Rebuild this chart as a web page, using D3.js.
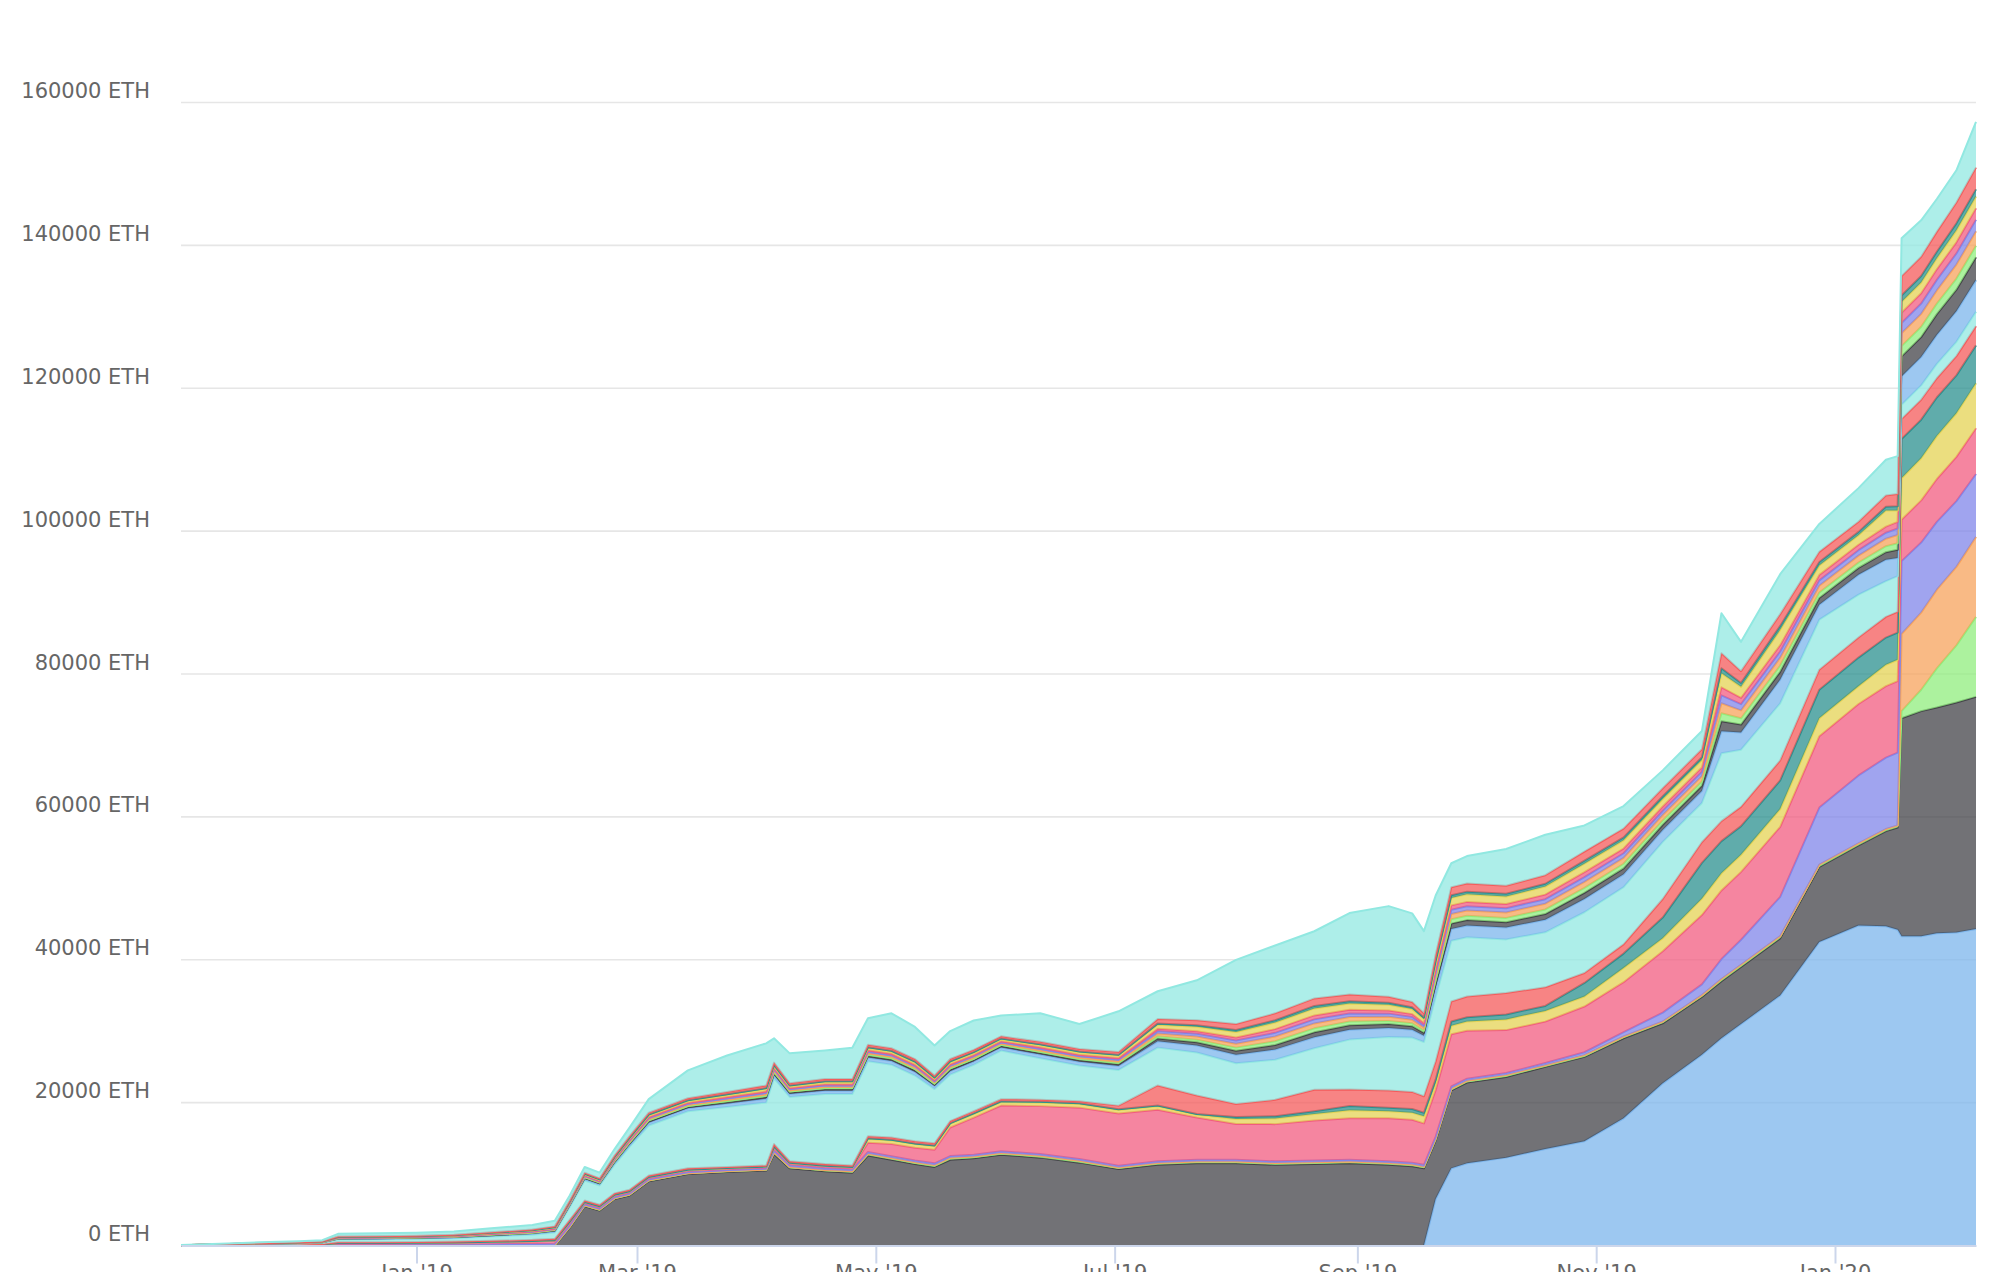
<!DOCTYPE html>
<html><head><meta charset="utf-8">
<script src="https://cdn.jsdelivr.net/npm/d3@7"></script>
<style>body{margin:0;background:#fff;} svg{display:block;}</style>
</head><body>
<svg id="chart" width="2002" height="1272"></svg>
<script>
const dates = ["2018-11-02","2018-11-12","2018-11-22","2018-12-02","2018-12-08","2018-12-12","2018-12-22","2019-01-01","2019-01-11","2019-01-21","2019-02-01","2019-02-07","2019-02-11","2019-02-15","2019-02-19","2019-02-23","2019-02-27","2019-03-04","2019-03-14","2019-03-24","2019-04-03","2019-04-05","2019-04-09","2019-04-18","2019-04-25","2019-04-29","2019-05-05","2019-05-11","2019-05-16","2019-05-20","2019-05-26","2019-06-02","2019-06-12","2019-06-22","2019-07-02","2019-07-12","2019-07-22","2019-08-01","2019-08-11","2019-08-21","2019-08-30","2019-09-09","2019-09-15","2019-09-18","2019-09-21","2019-09-25","2019-09-29","2019-10-09","2019-10-19","2019-10-29","2019-11-08","2019-11-18","2019-11-28","2019-12-03","2019-12-08","2019-12-18","2019-12-28","2020-01-07","2020-01-14","2020-01-17","2020-01-18","2020-01-23","2020-01-27","2020-02-01","2020-02-06"];

const yTickValues = [0,20000,40000,60000,80000,100000,120000,140000,160000];
const xTickDates = ["2019-01-01","2019-03-01","2019-05-01","2019-07-01","2019-09-01","2019-11-01","2020-01-01"];
const xTickLabels = ["Jan '19","Mar '19","May '19","Jul '19","Sep '19","Nov '19","Jan '20"];
const palette = ["#7cb5ec","#434348","#90ed7d","#f7a35c","#8085e9","#f15c80","#e4d354","#2b908f","#f45b5b","#91e8e1"];

// series, bottom of the stack first (ETH)
const s00 = [0,0,0,0,0,0,0,0,0,0,0,0,0,0,0,0,0,0,0,0,0,0,0,0,0,0,0,0,0,0,0,0,0,0,0,0,0,0,0,0,0,0,0,0,6500,10800,11500,12300,13500,14600,17800,22700,26700,29000,31000,35000,42500,44800,44700,44200,43300,43300,43700,43800,44300];
const s01 = [0,0,0,0,0,0,0,0,0,0,0,0,2500,5500,4900,6500,7000,9000,10000,10300,10500,12800,10800,10400,10200,12600,12000,11400,11000,12000,12200,12700,12300,11600,10700,11300,11500,11500,11300,11400,11500,11300,11100,10800,8200,10900,11300,11300,11500,11800,11200,8400,8100,8000,8000,8000,10500,11200,13300,14300,30500,31500,31600,32200,32500];
const s02 = [0,5,10,10,15,30,30,35,40,50,60,70,100,100,100,100,100,100,100,100,100,200,150,150,150,200,210,190,200,220,200,190,210,200,180,200,210,200,190,200,220,200,200,190,200,210,200,200,190,200,210,200,200,250,250,250,250,250,250,250,1000,3000,5500,8000,11200];
const s03 = [0,0,0,0,0,10,10,10,10,15,20,20,30,30,30,30,30,30,30,30,30,50,30,30,30,50,50,50,50,50,50,50,50,50,50,50,50,50,50,50,50,50,50,50,50,50,50,50,50,50,50,50,50,50,50,50,50,50,50,50,10800,10800,11000,11000,11200];
const s04 = [0,10,20,30,40,80,80,90,100,120,140,170,200,150,150,150,150,150,150,150,150,250,250,250,250,250,250,250,250,250,250,250,250,250,250,250,250,250,250,250,250,250,250,250,300,300,300,300,300,400,600,1250,1500,2800,3500,5500,8000,9500,10000,10200,10200,9800,9500,9200,8800];
const s05 = [5,30,50,70,90,200,210,220,240,290,350,420,450,250,250,250,250,250,250,200,200,400,250,250,250,1300,1700,1800,1900,4000,5200,6400,6700,7200,7300,7200,5900,5000,5200,5600,5800,6000,6000,5800,6500,7300,6700,6000,5800,6400,7000,8600,9700,9600,9500,9800,10000,10000,10000,10000,5800,5900,6000,6200,6400];
const s06 = [0,0,5,5,5,20,20,20,25,30,35,40,50,50,50,50,50,50,50,50,50,100,70,70,70,500,500,500,500,500,500,500,500,500,500,500,400,700,800,900,1100,1000,1000,1000,1000,1200,1300,1500,1500,1400,2000,1800,2300,2400,2400,2500,2500,2500,3000,3000,5800,5900,6000,6100,6300];
const s07 = [0,0,0,0,0,10,10,10,10,15,15,20,20,20,20,20,20,20,20,20,20,50,30,30,30,100,100,100,100,100,100,100,100,100,100,100,100,300,300,400,600,500,500,500,500,600,600,700,700,1900,2000,2900,5000,4500,4000,4000,4000,4000,3800,3800,5500,5400,5400,5300,5300];
const s08 = [5,15,25,35,45,100,100,110,120,140,170,200,250,200,200,200,200,200,200,150,150,350,220,220,220,300,300,300,300,300,300,300,300,300,500,2800,2600,1800,2300,3000,2300,2400,2400,2300,2500,2800,2900,3000,2600,1400,1300,2600,2900,2800,2700,2800,2800,2800,2900,2900,2800,2800,2700,2700,2700];
const s09 = [15,60,110,150,190,400,420,440,480,600,720,870,1800,2800,2700,4000,6000,7000,8000,8400,8800,9200,9000,9800,10000,10500,10200,9200,7600,6500,6500,6800,5800,5000,5000,5300,6000,5700,5600,5800,7000,7500,7600,7600,9000,8500,8300,7500,7700,8500,8000,8000,5500,9500,8000,8000,7000,6000,5000,5000,2000,2000,2000,2000,2000];
const s10 = [3,13,24,33,42,88,92,97,106,132,158,191,200,240,220,290,330,400,400,460,530,480,420,460,460,510,510,510,420,480,460,440,510,510,550,880,990,1210,1430,1540,1390,1230,1100,880,1320,1650,1640,1660,1760,1870,1800,1650,1660,3080,2420,3310,2090,2800,3000,2530,3960,3960,4070,4290,4440];
const s11 = [2,6,11,15,19,40,42,44,48,60,72,87,90,110,100,130,150,180,180,210,240,220,190,210,210,230,230,230,190,220,210,200,230,230,250,400,450,550,650,700,630,560,500,400,600,750,760,740,800,850,820,750,740,1400,1100,1100,950,950,1050,1150,2800,2800,2900,3000,3200];
const s12 = [1,5,9,12,15,32,34,35,38,48,58,70,72,88,80,104,120,144,144,168,192,176,152,168,168,184,184,184,152,176,168,160,184,184,200,320,360,440,520,560,504,448,400,320,480,600,600,610,640,680,660,600,600,1120,880,880,760,760,840,920,1440,1440,1480,1560,1616];
const s13 = [1,6,10,16,18,42,40,45,46,62,70,85,95,105,100,125,150,170,185,205,235,225,185,215,205,235,225,235,185,215,205,195,235,225,255,390,460,540,660,690,640,570,490,410,590,750,740,760,800,850,820,760,750,1400,1100,1090,950,960,1050,1150,1790,1810,1840,1960,2010];
const s14 = [1,4,9,12,15,30,34,36,38,46,58,68,70,90,78,106,118,146,142,170,190,178,150,170,166,186,182,186,150,178,166,162,182,186,198,322,358,442,518,562,500,450,398,322,478,600,610,600,640,680,650,600,610,1120,880,870,760,760,840,920,1438,1442,1478,1562,1614];
const s15 = [1,5,9,12,15,32,34,34,38,50,58,72,74,86,82,102,122,142,146,166,194,174,154,166,170,182,186,182,154,174,170,158,186,182,202,318,362,438,522,558,508,446,402,318,482,600,600,590,640,680,660,600,600,1120,880,890,760,760,840,920,1442,1438,1482,1558,1618];
const s16 = [2,8,15,21,27,56,59,62,67,84,101,122,126,154,140,182,210,252,252,294,336,308,266,294,294,322,322,322,266,308,294,280,322,322,350,560,630,770,910,980,882,784,700,560,840,1050,1060,1050,1120,1190,1150,1050,1050,1960,1540,2140,1330,1330,2280,1610,1520,1520,1540,1680,1648];
const s17 = [1,3,6,8,10,20,21,22,24,30,36,44,45,55,50,65,75,90,90,105,120,110,95,105,105,115,115,115,95,110,105,100,115,115,125,200,225,275,325,350,315,280,250,200,300,375,375,380,400,425,410,375,375,700,550,550,475,475,525,575,900,900,925,975,1010];
const s18 = [2,9,16,22,28,60,62,66,73,90,107,129,135,165,150,195,225,270,270,315,360,330,285,315,315,345,345,345,285,330,315,300,345,345,375,600,675,825,975,1050,945,840,750,600,900,1125,1125,1120,1200,1275,1230,1125,1125,2100,1650,1650,1425,1425,1575,1725,2700,2700,2775,2925,3030];
const s19 = [20,75,120,150,175,380,400,425,465,540,640,790,700,800,800,900,1200,1900,3900,5100,5900,3400,4200,4000,4400,3700,4900,4500,4200,3900,4100,2900,4000,3500,5700,3900,5600,9000,9500,9400,11400,12700,12400,11500,8250,3350,3850,5150,5650,3650,3150,2500,2550,5600,4100,5600,3900,4700,5000,5300,5300,5100,4600,4500,6400];

const seriesValues = [s00,s01,s02,s03,s04,s05,s06,s07,s08,s09,s10,s11,s12,s13,s14,s15,s16,s17,s18,s19];

(function draw() {
  const parse = d3.utcParse("%Y-%m-%d");
  const keys = seriesValues.map((_, k) => "s" + k);
  const table = dates.map((ds, i) => {
    const row = { date: parse(ds) };
    seriesValues.forEach((arr, k) => { row["s" + k] = arr[i]; });
    return row;
  });

  const W = 2002, H = 1272;
  const plotLeft = 181, plotRight = 1976, plotTop = 102.5, plotBottom = 1245.5;

  // Highstock-like ordinal spacing: Jan–Feb 2019 compressed
  const x = d3.scaleUtc()
    .domain([parse("2018-11-02"), parse("2019-01-01"), parse("2019-03-01"), parse("2020-01-01"), parse("2020-02-06")])
    .range([plotLeft, 416.5, 637, 1835, plotRight]);
  const y = d3.scaleLinear().domain([0, 160000]).range([plotBottom, plotTop]);

  const svg = d3.select("#chart");
  svg.append("rect").attr("width", W).attr("height", H).attr("fill", "#ffffff");

  svg.append("g").selectAll("line")
    .data(yTickValues.filter(v => v > 0))
    .join("line")
    .attr("x1", plotLeft).attr("x2", plotRight)
    .attr("y1", d => y(d)).attr("y2", d => y(d))
    .attr("stroke", "#e6e6e6").attr("stroke-width", 1.6);

  const layers = d3.stack().keys(keys)(table);

  const area = d3.area()
    .x(d => x(d.data.date))
    .y0(d => y(d[0]))
    .y1(d => y(d[1]));

  const g = svg.append("g");
  layers.forEach((layer, k) => {
    const vals = seriesValues[k];
    const line = d3.line()
      .defined((d, i) => vals[i] > 0 || (i > 0 && vals[i - 1] > 0) || (i < vals.length - 1 && vals[i + 1] > 0))
      .x(d => x(d.data.date))
      .y(d => y(d[1]));
    const col = palette[k % 10];
    g.append("path").attr("d", area(layer)).attr("fill", col).attr("fill-opacity", 0.75).attr("stroke", "none");
    g.append("path").attr("d", line(layer)).attr("fill", "none").attr("stroke", col).attr("stroke-width", 2).attr("stroke-linejoin", "round");
  });

  const yAxis = d3.axisLeft(y).tickValues(yTickValues).tickFormat(v => v + " ETH").tickSize(0).tickPadding(0);
  const gy = svg.append("g").attr("transform", "translate(150,0)").call(yAxis)
    .attr("font-family", "'DejaVu Sans', sans-serif").attr("font-size", 21);
  gy.select(".domain").remove();
  gy.selectAll("text").attr("dy", -5).attr("fill", "#666666");

  const xAxis = d3.axisBottom(x)
    .tickValues(xTickDates.map(parse))
    .tickFormat((d, i) => xTickLabels[i])
    .tickSize(18).tickSizeOuter(0).tickPadding(2);
  const gx = svg.append("g").attr("transform", `translate(0,${plotBottom})`).call(xAxis)
    .attr("font-family", "'DejaVu Sans', sans-serif").attr("font-size", 21);
  gx.select(".domain").attr("stroke", "#ccd6eb").attr("stroke-width", 2);
  gx.selectAll(".tick line").attr("stroke", "#ccd6eb").attr("stroke-width", 2);
  gx.selectAll("text").attr("fill", "#666666");
})();
</script>
</body></html>
